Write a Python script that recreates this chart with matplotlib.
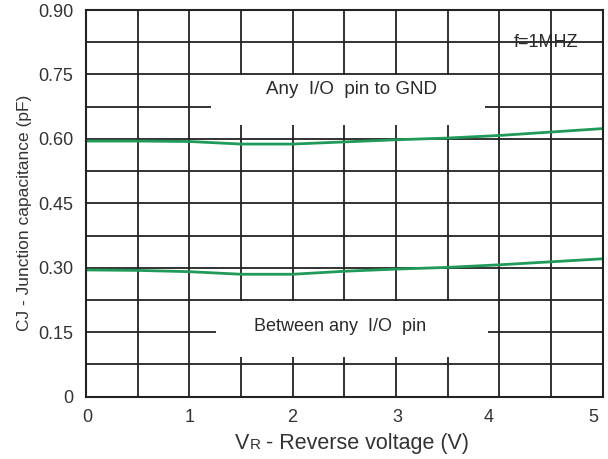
import numpy as np
import matplotlib.pyplot as plt
from matplotlib.patches import Rectangle
from matplotlib.offsetbox import TextArea, HPacker, AnnotationBbox

plt.rcParams['font.family'] = ['Liberation Sans', 'DejaVu Sans']

# data
vr = [0, 0.5, 1.0, 1.5, 2.0, 2.5, 3.0, 3.5, 4.0, 4.5, 5.0]
cj_gnd = [0.595, 0.595, 0.594, 0.588, 0.588, 0.593, 0.598, 0.602, 0.608, 0.616, 0.624]
cj_io = [0.295, 0.294, 0.291, 0.285, 0.285, 0.292, 0.297, 0.301, 0.307, 0.314, 0.321]

x_tick_pos = [0.01, 1.0, 1.99, 3.01, 3.9, 4.91]
x_tick_lab = ['0', '1', '2', '3', '4', '5']
y_ticks = [0, 0.15, 0.30, 0.45, 0.60, 0.75, 0.90]
y_tick_lab = ['0', '0.15', '0.30', '0.45', '0.60', '0.75', '0.90']

fig = plt.figure(figsize=(6.08, 4.59), dpi=100)
ax = fig.add_axes([0.1414, 0.1357, 0.8499, 0.8425])
ax.set_xlim(0, 5)
ax.set_ylim(0, 0.9)

grid_c = '#222222'
for gx in np.arange(0.5, 5.0, 0.5):
    ax.axvline(gx, color=grid_c, lw=1.3, zorder=0.5)
for gy in np.arange(0.075, 0.9, 0.075):
    ax.axhline(gy, color=grid_c, lw=1.3, zorder=0.5)

# white label boxes that cut the grid
ax.add_patch(Rectangle((1.21, 0.632), 2.65, 0.116, facecolor='white', edgecolor='none', zorder=1))
ax.add_patch(Rectangle((1.26, 0.093), 2.63, 0.130, facecolor='white', edgecolor='none', zorder=1))

green = '#1f9a58'
ax.plot(vr, cj_gnd, color=green, lw=2, zorder=2)
ax.plot(vr, cj_io, color=green, lw=2, zorder=2)

txt_c = '#2a2a2a'
ax.text(2.57, 0.714, 'Any  I/O  pin to GND', ha='center', va='center', fontsize=13.5, color=txt_c, zorder=3)
ax.text(2.46, 0.163, 'Between any  I/O  pin', ha='center', va='center', fontsize=13, color=txt_c, zorder=3)
ax.text(4.45, 0.825, 'f=1MHZ', ha='center', va='center', fontsize=13, color=txt_c, zorder=3)

for s in ax.spines.values():
    s.set_color(grid_c)
    s.set_linewidth(1.5)

ax.set_xticks(x_tick_pos)
ax.set_xticklabels(x_tick_lab)
ax.set_yticks(y_ticks)
ax.set_yticklabels(y_tick_lab)
ax.tick_params(axis='both', length=0, labelsize=13, labelcolor='#333333')
ax.tick_params(axis='x', pad=9)
ax.tick_params(axis='y', pad=9)

ax.set_ylabel('CJ - Junction capacitance (pF)', fontsize=12.5, color='#333333')
ax.yaxis.set_label_coords(-0.105, 0.475)

parts = HPacker(children=[
    TextArea('V', textprops=dict(fontsize=15.5, color='#333333')),
    TextArea('R', textprops=dict(fontsize=11, color='#333333')),
    TextArea(' - Reverse voltage (V)', textprops=dict(fontsize=15.5, color='#333333')),
], align='baseline', pad=0, sep=0)
ab = AnnotationBbox(parts, (0.515, -0.12), xycoords='axes fraction', frameon=False,
                    box_alignment=(0.5, 0.5))
ax.add_artist(ab)

fig.savefig('out.png', dpi=100)
